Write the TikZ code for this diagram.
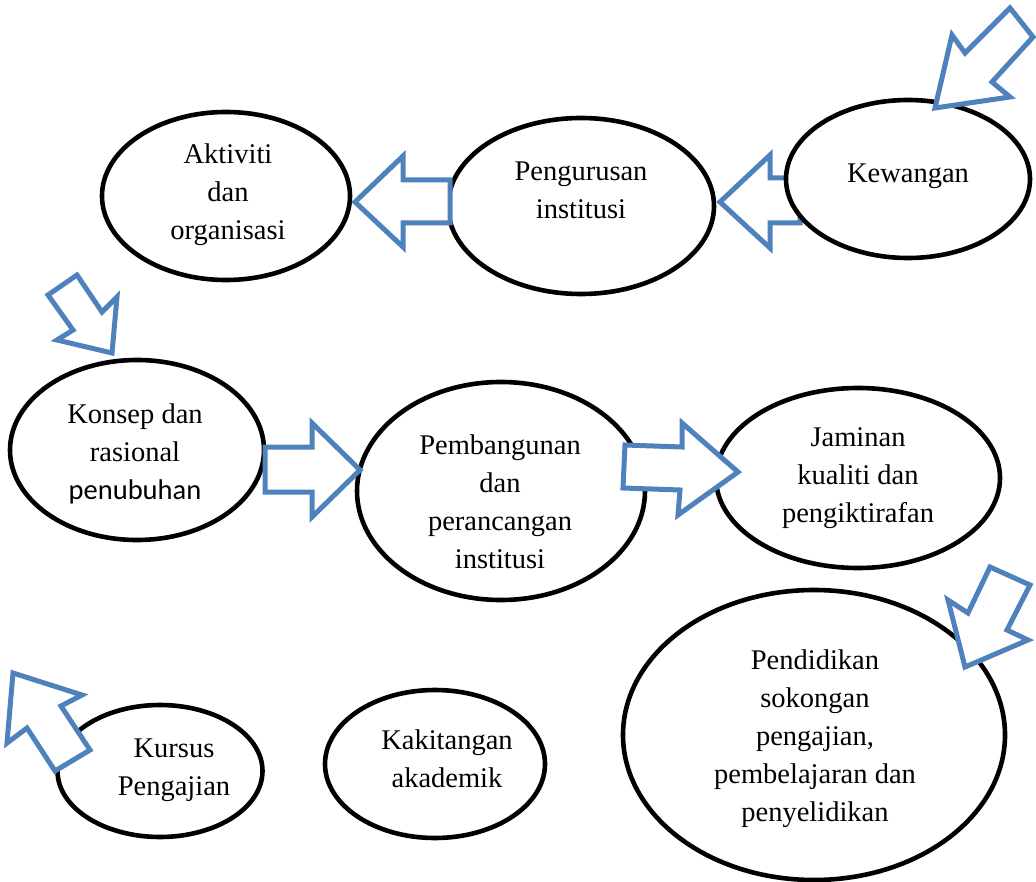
\documentclass[tikz,border=0pt]{standalone}
\usepackage{fontspec}
\setmainfont{Liberation Serif}
\newfontfamily\calib{Carlito}
\usetikzlibrary{shapes.geometric}
\definecolor{arrowblue}{HTML}{4F81BD}
\tikzset{
  oval/.style={ellipse, draw=black, line width=4.6pt, fill=white, inner sep=0pt},
  lbl/.style={align=center, font=\fontsize{28.5}{38}\selectfont, inner sep=0pt},
  blockarrow/.style={draw=arrowblue, line width=5pt, fill=white, line join=miter}
}
\begin{document}
\begin{tikzpicture}[x=1pt,y=-1pt]
\useasboundingbox (0,0) rectangle (1036,882);
% arrow hidden partly under Kewangan
\draw[blockarrow] (720,202) -- (770,155) -- (770,178) -- (800,178) -- (800,223) -- (770,223) -- (770,248) -- cycle;
% ellipses
\node[oval, minimum width=248pt, minimum height=168pt] (aktiviti) at (226,196) {};
\node[oval, minimum width=266pt, minimum height=176pt] (pengurusan) at (581,206) {};
\node[oval, minimum width=244pt, minimum height=158pt] (kewangan) at (908,179) {};
\node[oval, minimum width=254pt, minimum height=180pt] (konsep) at (137,450) {};
\node[oval, minimum width=288pt, minimum height=218pt] (pembangunan) at (501,491) {};
\node[oval, minimum width=284pt, minimum height=180pt] (jaminan) at (858,478) {};
\node[oval, minimum width=382pt, minimum height=290pt] (pendidikan) at (814,735) {};
\node[oval, minimum width=205pt, minimum height=132pt] (kursus) at (160,771) {};
\node[oval, minimum width=220pt, minimum height=148pt] (kakitangan) at (435,764) {};
% labels
\node[lbl] (taktiviti) at (228,195) {Aktiviti\\dan\\organisasi};
\node[lbl] (tpengurusan) at (581,190) {Pengurusan\\institusi};
\node[lbl] (tkewangan) at (908,176) {Kewangan};
\node[lbl] (tkonsep) at (135,454) {Konsep dan\\rasional\\{\calib penubuhan}};
\node[lbl] (tpembangunan) at (500,502) {Pembangunan\\dan\\perancangan\\institusi};
\node[lbl] (tjaminan) at (858,478) {Jaminan\\kualiti dan\\pengiktirafan};
\node[lbl] (tpendidikan) at (815,739) {Pendidikan\\sokongan\\pengajian,\\pembelajaran dan\\penyelidikan};
\node[lbl] (tkursus) at (174,770) {Kursus\\Pengajian};
\node[lbl] (tkakitangan) at (447,759) {Kakitangan\\akademik};
% block arrows
\draw[blockarrow] (355,202) -- (403,156) -- (403,180) -- (450,180) -- (450,223) -- (403,223) -- (403,247) -- cycle;
\draw[blockarrow] (265,447) -- (312,447) -- (312,423) -- (360,470) -- (312,517) -- (312,492) -- (265,492) -- cycle;
\draw[blockarrow] (625,445) -- (682,447) -- (682,423) -- (738,472) -- (678,515) -- (680,490) -- (623,488) -- cycle;
\draw[blockarrow] (935,108) -- (952,35) -- (965,53) -- (1010,8) -- (1033,37) -- (992,82) -- (1010,97) -- cycle;
\draw[blockarrow] (112,353) -- (57,340) -- (73,330) -- (48,295) -- (77,275) -- (102,312) -- (117,297) -- cycle;
\draw[blockarrow] (965,667) -- (948,600) -- (968,613) -- (990,567) -- (1030,585) -- (1007,630) -- (1028,640) -- cycle;
\draw[blockarrow] (13,673) -- (82,695) -- (61,706) -- (90,750) -- (55,771) -- (27,728) -- (7,743) -- cycle;
\end{tikzpicture}
\end{document}
